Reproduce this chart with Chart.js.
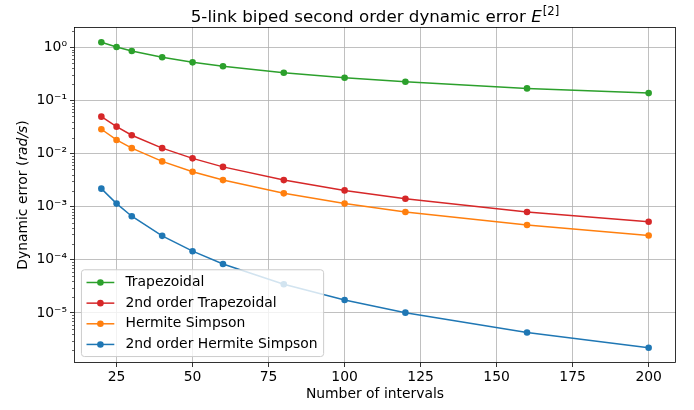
<!DOCTYPE html>
<html><head><meta charset="utf-8">
<script src="https://cdn.jsdelivr.net/npm/chart.js@4"></script>
<style>html,body{margin:0;padding:0;background:#fff}#wrap{width:694px;height:410px}</style>
</head><body><div id="wrap"><canvas id="c" width="694" height="410"></canvas></div>
<script>
// ---- data ----
const intervals = [20, 25, 30, 40, 50, 60, 80, 100, 120, 160, 200];
const trapezoidal = [1.24, 1.01, 0.85, 0.65, 0.52, 0.44, 0.33, 0.266, 0.224, 0.168, 0.137];
const trapezoidal2 = [0.0494, 0.032, 0.0221, 0.0126, 0.0081, 0.0056, 0.00316, 0.00202, 0.00141, 0.00079, 0.00052];
const hermiteSimpson = [0.0286, 0.018, 0.0126, 0.0071, 0.00453, 0.00316, 0.00178, 0.00114, 0.00079, 0.00045, 0.000286];
const hermiteSimpson2 = [0.00218, 0.00114, 0.00066, 0.000282, 0.000145, 8.3e-5, 3.45e-5, 1.75e-5, 1.01e-5, 4.28e-6, 2.21e-6];
const seriesNames = ['Trapezoidal', '2nd order Trapezoidal', 'Hermite Simpson', '2nd order Hermite Simpson'];
const xTickValues = [25, 50, 75, 100, 125, 150, 175, 200];
const yTickValues = [1e-5, 1e-4, 1e-3, 1e-2, 1e-1, 1e0];
const yTickLabels = ['10\u207B\u2075', '10\u207B\u2074', '10\u207B\u00B3', '10\u207B\u00B2', '10\u207B\u00B9', '10\u2070'];

// ---- styling ----
const colors = ['#2ca02c', '#d62728', '#ff7f0e', '#1f77b4'];
const FONT = "'DejaVu Sans', sans-serif";
const FS = 13.9;

const allSeries = [trapezoidal, trapezoidal2, hermiteSimpson, hermiteSimpson2];
const allVals = allSeries.flat();
const lmin = Math.log10(Math.min(...allVals)), lmax = Math.log10(Math.max(...allVals));
const lpad = (lmax - lmin) * 0.05;
const xmin0 = Math.min(...intervals), xmax0 = Math.max(...intervals);
const xpad = (xmax0 - xmin0) * 0.05;

const datasets = allSeries.map((s, i) => ({
  label: seriesNames[i],
  data: intervals.map((x, j) => ({x, y: s[j]})),
  borderColor: colors[i],
  backgroundColor: colors[i],
  pointBackgroundColor: colors[i],
  pointBorderColor: colors[i],
  pointRadius: 3.3,
  pointBorderWidth: 0,
  borderWidth: 1.5,
  tension: 0,
  order: 4 - i
}));

const decor = {
  id: 'decor',
  afterDraw(chart) {
    const {ctx, chartArea: a, scales: {x, y}} = chart;
    ctx.save();
    // minor ticks on log axis
    ctx.strokeStyle = '#000'; ctx.lineWidth = 0.6;
    for (let e = -7; e <= 1; e++) {
      for (let m = 2; m <= 9; m++) {
        const v = m * Math.pow(10, e);
        if (v < y.min || v > y.max) continue;
        const py = Math.round(y.getPixelForValue(v)) + 0.5;
        ctx.beginPath(); ctx.moveTo(a.left, py); ctx.lineTo(a.left - 2, py); ctx.stroke();
      }
    }
    // frame
    ctx.strokeStyle = '#000'; ctx.lineWidth = 0.8;
    ctx.strokeRect(Math.round(a.left) + 0.5, Math.round(a.top) + 0.5, Math.round(a.right - a.left) - 1, Math.round(a.bottom - a.top) - 1);

    // title
    const cx = (a.left + a.right) / 2;
    const tMain = '5-link biped second order dynamic error ';
    const fMain = `16.7px ${FONT}`, fIt = `italic 16.7px ${FONT}`, fSup = `11.7px ${FONT}`;
    ctx.fillStyle = '#000'; ctx.textBaseline = 'alphabetic'; ctx.textAlign = 'left';
    ctx.font = fMain; const w1 = ctx.measureText(tMain).width;
    ctx.font = fIt; const w2 = ctx.measureText('E').width;
    ctx.font = fSup; const w3 = ctx.measureText('[2]').width;
    let tx = cx - (w1 + w2 + 1 + w3) / 2; const ty = 21.5;
    ctx.font = fMain; ctx.fillText(tMain, tx, ty); tx += w1;
    ctx.font = fIt; ctx.fillText('E', tx, ty); tx += w2 + 1;
    ctx.font = fSup; ctx.fillText('[2]', tx, ty - 7);

    // x label
    ctx.font = `${FS}px ${FONT}`; ctx.textAlign = 'center';
    ctx.fillText('Number of intervals', cx, 398);

    // y label
    ctx.save();
    ctx.translate(27, (a.top + a.bottom) / 2);
    ctx.rotate(-Math.PI / 2);
    const p1 = 'Dynamic error (', p2 = 'rad/s', p3 = ')';
    ctx.textAlign = 'left';
    ctx.font = `${FS}px ${FONT}`; const q1 = ctx.measureText(p1).width, q3 = ctx.measureText(p3).width;
    ctx.font = `italic ${FS}px ${FONT}`; const q2 = ctx.measureText(p2).width;
    let lx = -(q1 + q2 + q3) / 2;
    ctx.font = `${FS}px ${FONT}`; ctx.fillText(p1, lx, 0); lx += q1;
    ctx.font = `italic ${FS}px ${FONT}`; ctx.fillText(p2, lx, 0); lx += q2;
    ctx.font = `${FS}px ${FONT}`; ctx.fillText(p3, lx, 0);
    ctx.restore();

    // legend (lower left inside axes)
    ctx.font = `${FS}px ${FONT}`;
    const ds = chart.data.datasets;
    const maxW = Math.max(...ds.map(d => ctx.measureText(d.label).width));
    const bp = 0.4 * FS, hl = 2.0 * FS, htp = 0.8 * FS, ls = 0.5 * FS, rowH = 13.7;
    const bw = bp * 2 + hl + htp + maxW;
    const bh = bp * 2 + ds.length * rowH + (ds.length - 1) * ls;
    const bx = a.left + 0.5 * FS, by = a.bottom - 0.5 * FS - bh;
    ctx.beginPath();
    if (ctx.roundRect) ctx.roundRect(bx + 0.5, by + 0.5, bw, bh, 3); else ctx.rect(bx + 0.5, by + 0.5, bw, bh);
    ctx.fillStyle = 'rgba(255,255,255,0.8)'; ctx.fill();
    ctx.strokeStyle = '#cccccc'; ctx.lineWidth = 1; ctx.stroke();
    ds.forEach((d, i) => {
      const ry = by + bp + rowH / 2 + i * (rowH + ls) + 0.8;
      const hx = bx + bp;
      ctx.strokeStyle = d.borderColor; ctx.lineWidth = 1.5;
      ctx.beginPath(); ctx.moveTo(hx, ry); ctx.lineTo(hx + hl, ry); ctx.stroke();
      ctx.fillStyle = d.borderColor;
      ctx.beginPath(); ctx.arc(hx + hl / 2, ry, 3.3, 0, Math.PI * 2); ctx.fill();
      ctx.fillStyle = '#000'; ctx.textAlign = 'left'; ctx.textBaseline = 'middle';
      ctx.fillText(d.label, hx + hl + htp, ry);
    });
    ctx.restore();
  }
};

new Chart(document.getElementById('c'), {
  type: 'line',
  data: {datasets},
  options: {
    responsive: false,
    animation: false,
    devicePixelRatio: 1,
    layout: {padding: {top: 27, right: 18, left: 0, bottom: 0}},
    plugins: {legend: {display: false}, title: {display: false}, tooltip: {enabled: false}},
    scales: {
      x: {
        type: 'linear',
        min: xmin0 - xpad, max: xmax0 + xpad,
        afterBuildTicks: s => { s.ticks = xTickValues.map(v => ({value: v})); },
        afterFit: s => { s.height = 47; },
        ticks: {color: '#000', font: {family: FONT, size: FS}, padding: 2, autoSkip: false, maxRotation: 0},
        grid: {color: '#b0b0b0', lineWidth: 0.8, tickLength: 4, tickColor: '#000', drawTicks: true},
        border: {display: false}
      },
      y: {
        type: 'logarithmic',
        min: Math.pow(10, lmin - lpad), max: Math.pow(10, lmax + lpad),
        afterBuildTicks: s => { s.ticks = yTickValues.map(v => ({value: v, major: true})); },
        afterFit: s => { s.width = 74; },
        ticks: {color: '#000', font: {family: FONT, size: FS}, padding: 3, autoSkip: false,
          callback: (v) => { const k = yTickValues.indexOf(v); return k >= 0 ? yTickLabels[k] : ''; }},
        grid: {color: '#b0b0b0', lineWidth: 0.8, tickLength: 4, tickColor: '#000'},
        border: {display: false}
      }
    }
  },
  plugins: [decor]
});
</script>
</body></html>
